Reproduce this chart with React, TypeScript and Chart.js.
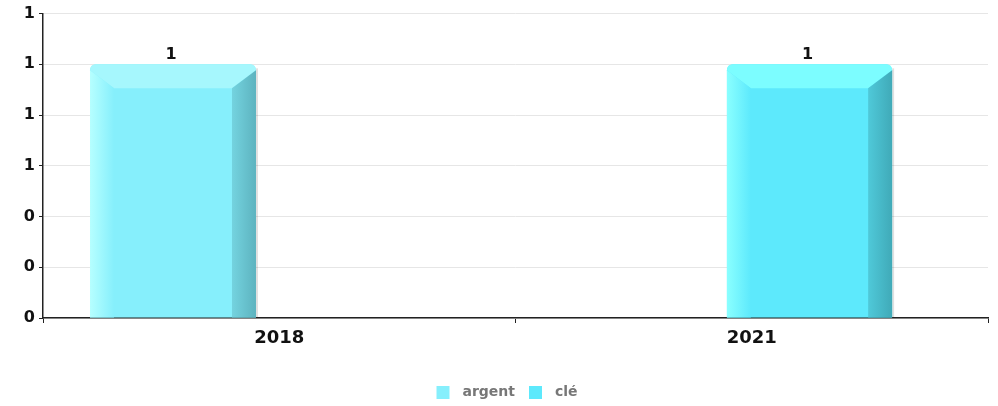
import React, { useEffect, useRef } from "react";
import { Chart, registerables } from "chart.js";

Chart.register(...registerables);

const categories = ["2018", "2021"];
const seriesNames = ["argent", "clé"];
const argentValues = [1, null];
const cleValues = [null, 1];
const yTickValues = [0, 0.2, 0.4, 0.6, 0.8, 1, 1.2];

const faceColors = ["#86effc", "#5de9fc"];
const topColors = ["#a6f7fd", "#7cfdff"];
const leftLight = ["#b6ffff", "#8affff"];
const rightColors = [["#74d3df", "#5db3bf"], ["#4fc9d9", "#40aab8"]];

const Y_FONT = { family: "DejaVu Sans", weight: "bold" as const, size: 16 };
const X_FONT = { family: "DejaVu Sans", weight: "bold" as const, size: 18 };

function makeSwatch(color: string) {
  const c = document.createElement("canvas");
  c.width = 33;
  c.height = 13;
  const g = c.getContext("2d")!;
  g.fillStyle = color;
  g.fillRect(14, 0, 13, 13);
  return c;
}

const bevelPlugin = {
  id: "bevel",
  afterDatasetsDraw(chart: any) {
    const ctx = chart.ctx as CanvasRenderingContext2D;
    chart.data.datasets.forEach((ds: any, di: number) => {
      const meta = chart.getDatasetMeta(di);
      meta.data.forEach((el: any, i: number) => {
        if (ds.data[i] == null) return;
        const { x, y, base, width } = el.getProps(["x", "y", "base", "width"], true);
        const l = x - width / 2;
        const r = x + width / 2;
        const t = y;
        const b = base;
        const bw = Math.min(24, width * 0.145);
        ctx.save();
        ctx.fillStyle = "rgba(0,0,0,0.12)";
        ctx.fillRect(r, t + 4, 2, b - t - 4);
        // top bevel
        ctx.fillStyle = topColors[di];
        ctx.beginPath();
        ctx.moveTo(l + 6, t);
        ctx.lineTo(r - 6, t);
        ctx.quadraticCurveTo(r, t, r, t + 6);
        ctx.lineTo(r - bw, t + bw);
        ctx.lineTo(l + bw, t + bw);
        ctx.lineTo(l, t + 6);
        ctx.quadraticCurveTo(l, t, l + 6, t);
        ctx.closePath();
        ctx.fill();
        // left bevel
        let gr = ctx.createLinearGradient(l, 0, l + bw, 0);
        gr.addColorStop(0, leftLight[di]);
        gr.addColorStop(1, faceColors[di]);
        ctx.fillStyle = gr;
        ctx.beginPath();
        ctx.moveTo(l, t + 6);
        ctx.lineTo(l + bw, t + bw);
        ctx.lineTo(l + bw, b);
        ctx.lineTo(l, b);
        ctx.closePath();
        ctx.fill();
        // right bevel
        gr = ctx.createLinearGradient(r - bw, 0, r, 0);
        gr.addColorStop(0, rightColors[di][0]);
        gr.addColorStop(1, rightColors[di][1]);
        ctx.fillStyle = gr;
        ctx.beginPath();
        ctx.moveTo(r, t + 6);
        ctx.lineTo(r, b);
        ctx.lineTo(r - bw, b);
        ctx.lineTo(r - bw, t + bw);
        ctx.closePath();
        ctx.fill();
        // value label
        ctx.fillStyle = "#111";
        ctx.font = "bold 16px 'DejaVu Sans'";
        ctx.textAlign = "center";
        ctx.textBaseline = "bottom";
        ctx.fillText(Number(ds.data[i]).toFixed(0), x - 2, t - 1);
        ctx.restore();
      });
    });
  },
};

export default function App() {
  const ref = useRef<HTMLCanvasElement>(null);
  useEffect(() => {
    document.body.style.margin = "0";
    const swatches = faceColors.map(makeSwatch);
    const chart = new Chart(ref.current!, {
      type: "bar",
      data: {
        labels: categories,
        datasets: [
          {
            label: seriesNames[0],
            data: argentValues,
            backgroundColor: faceColors[0],
            borderRadius: { topLeft: 6, topRight: 6, bottomLeft: 0, bottomRight: 0 },
            borderSkipped: false,
            categoryPercentage: 0.8995,
            barPercentage: 0.781,
          },
          {
            label: seriesNames[1],
            data: cleValues,
            backgroundColor: faceColors[1],
            borderRadius: { topLeft: 6, topRight: 6, bottomLeft: 0, bottomRight: 0 },
            borderSkipped: false,
            categoryPercentage: 0.489,
            barPercentage: 1.43,
          },
        ] as any,
      },
      options: {
        animation: false,
        responsive: false,
        maintainAspectRatio: false,
        layout: { padding: { left: 2, right: 0, top: 11, bottom: -3 } },
        plugins: {
          tooltip: { enabled: false },
          legend: {
            position: "bottom",
            labels: {
              usePointStyle: true,
              pointStyleWidth: 33,
              boxHeight: 13,
              padding: 0,
              color: "#777",
              font: { family: "DejaVu Sans", weight: "bold", size: 14 },
              generateLabels: (chart: any) =>
                chart.data.datasets.map((ds: any, i: number) => ({
                  text: ds.label,
                  fillStyle: faceColors[i],
                  strokeStyle: faceColors[i],
                  lineWidth: 0,
                  pointStyle: swatches[i],
                  hidden: false,
                  datasetIndex: i,
                  fontColor: "#777",
                })),
            },
          },
        },
        scales: {
          x: {
            grid: { drawOnChartArea: false, tickLength: 5, tickColor: "#222", offset: true },
            border: { color: "#222", width: 1.5 },
            ticks: { color: "#111", font: X_FONT, padding: 5 },
            afterFit: (s: any) => {
              s.height = 67;
            },
          },
          y: {
            min: 0,
            max: 1.2,
            afterBuildTicks: (s: any) => {
              s.ticks = yTickValues.map((v) => ({ value: v }));
            },
            grid: { color: "#e6e6e6", tickLength: 4, tickColor: "#222" },
            border: { color: "#222", width: 1.5 },
            ticks: {
              color: "#111",
              font: Y_FONT,
              padding: 4,
              callback: (v: any) => Number(v).toFixed(0),
            },
            afterFit: (s: any) => {
              s.width = 41;
            },
          },
          yRightSpacer: {
            type: "linear",
            position: "right",
            display: true,
            grid: { display: false, drawTicks: false },
            border: { display: false },
            ticks: { display: false },
            afterFit: (s: any) => {
              s.width = 10;
            },
          },
        },
      },
      plugins: [bevelPlugin],
    });
    return () => chart.destroy();
  }, []);
  return (
    <div style={{ width: 998, height: 406 }}>
      <canvas ref={ref} width={998} height={406} style={{ display: "block" }} />
    </div>
  );
}
